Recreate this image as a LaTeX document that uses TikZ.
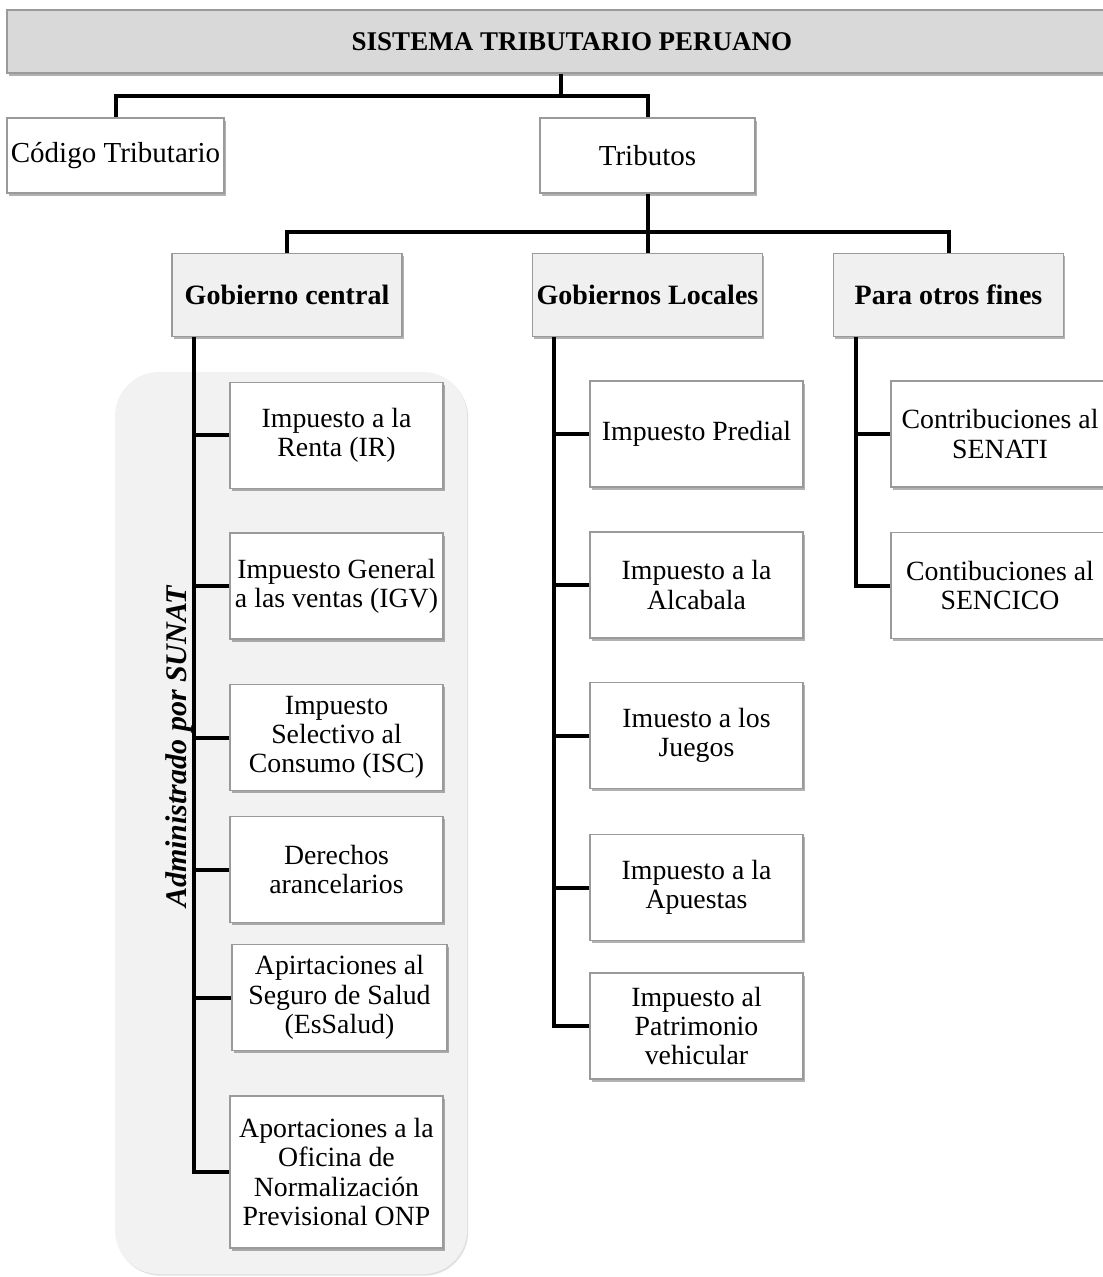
\documentclass[tikz,border=0pt]{standalone}
\usepackage{fontspec}
\setmainfont{Liberation Serif}
\usetikzlibrary{shadows,backgrounds}
\definecolor{bordegris}{HTML}{9A9A9A}
\definecolor{barragris}{HTML}{D9D9D9}
\definecolor{cabezagris}{HTML}{F0F0F0}
\definecolor{fondogris}{HTML}{F2F2F2}

\begin{document}
\begin{tikzpicture}[x=0.5pt,y=-0.5pt,
  caja/.style={draw=bordegris, line width=0.6pt, fill=white, align=center, inner sep=1pt,
    drop shadow={shadow xshift=0.8pt, shadow yshift=-1.3pt, fill=black, opacity=0.3},
    font=\fontsize{13.9}{14.6}\selectfont},
  jefe/.style={caja, fill=cabezagris, minimum width=115pt, minimum height=41.5pt,
    font=\fontsize{14}{16}\selectfont\bfseries},
  hoja/.style={caja, minimum width=106.5pt, minimum height=53pt},
  rama/.style={line width=2pt}]
\useasboundingbox (0,0) rectangle (1102,1277);

\node[rotate=90, font=\fontsize{15}{17}\selectfont\bfseries\itshape] (SUNAT) at (179,747) {Administrado por SUNAT};

% primer nivel
\node[caja, fill=barragris, minimum width=565pt, minimum height=31.5pt,
  font=\fontsize{13.5}{15}\selectfont\bfseries] (SISTEMA) at (572,41.5) {SISTEMA TRIBUTARIO PERUANO};
\node[caja, minimum width=108.5pt, minimum height=37.5pt, font=\fontsize{14.5}{16}\selectfont] (CODIGO) at (115.5,155.5) {Código Tributario};
\node[caja, minimum width=107.5pt, minimum height=37.5pt, font=\fontsize{14.5}{16}\selectfont] (TRIB) at (647.5,155.5) {Tributos};

% segundo nivel
\node[jefe] (GC) at (287,295) {Gobierno central};
\node[jefe] (GL) at (647.5,295) {Gobiernos Locales};
\node[jefe] (POF) at (948.5,295) {Para otros fines};

% gobierno central
\node[hoja] (IR) at (336.5,435.5) {Impuesto a la\\Renta (IR)};
\node[hoja] (IGV) at (336.5,586) {Impuesto General\\a las ventas (IGV)};
\node[hoja] (ISC) at (336.5,737.5) {Impuesto\\Selectivo al\\Consumo (ISC)};
\node[hoja] (DER) at (336.5,869.5) {Derechos\\arancelarios};
\node[hoja, minimum width=107.5pt] (ESS) at (339.5,997.5) {Apirtaciones al\\Seguro de Salud\\(EsSalud)};
\node[hoja, minimum height=76pt] (ONP) at (336.5,1172) {Aportaciones a la\\Oficina de\\Normalización\\Previsional ONP};

% gobiernos locales
\node[hoja] (PRED) at (696.5,434) {Impuesto Predial};
\node[hoja] (ALC) at (696.5,585) {Impuesto a la\\Alcabala};
\node[hoja] (JUE) at (696.5,735.5) {Imuesto a los\\Juegos};
\node[hoja] (APU) at (696.5,887.5) {Impuesto a la\\Apuestas};
\node[hoja] (PAT) at (696.5,1026) {Impuesto al\\Patrimonio\\vehicular};

% otros fines
\node[hoja, minimum width=109pt] (SEN) at (1000,434) {Contribuciones al\\SENATI};
\node[hoja, minimum width=109pt] (SENC) at (1000,585.5) {Contibuciones al\\SENCICO};

% conectores
\coordinate (J1) at (561,96);
\coordinate (J2) at (647.5,232);
\coordinate (E1) at ([xshift=11.5pt]GC.south west);
\coordinate (E2) at ([xshift=11pt]GL.south west);
\coordinate (E3) at ([xshift=11.5pt]POF.south west);
\begin{pgfonlayer}{background}
\node[fill=fondogris, rounded corners=22pt, minimum width=176pt, minimum height=451pt,
  drop shadow={shadow xshift=0.6pt, shadow yshift=-0.8pt, fill=black, opacity=0.12}] (ADM) at (291,823) {};
\draw[rama] (SISTEMA.south -| J1) -- (J1);
\draw[rama] (CODIGO.north) |- (J1) -| (TRIB.north);
\draw[rama] (TRIB.south) -- (GL.north);
\draw[rama] (GC.north) |- (J2) -| (POF.north);
\draw[rama] (E1) |- (ONP.west);
\foreach \h in {IR,IGV,ISC,DER,ESS}
  \draw[rama] (\h.west) -- (\h.west -| E1);
\draw[rama] (E2) |- (PAT.west);
\foreach \h in {PRED,ALC,JUE,APU}
  \draw[rama] (\h.west) -- (\h.west -| E2);
\draw[rama] (E3) |- (SENC.west);
\draw[rama] (SEN.west) -- (SEN.west -| E3);
\end{pgfonlayer}
\end{tikzpicture}
\end{document}
